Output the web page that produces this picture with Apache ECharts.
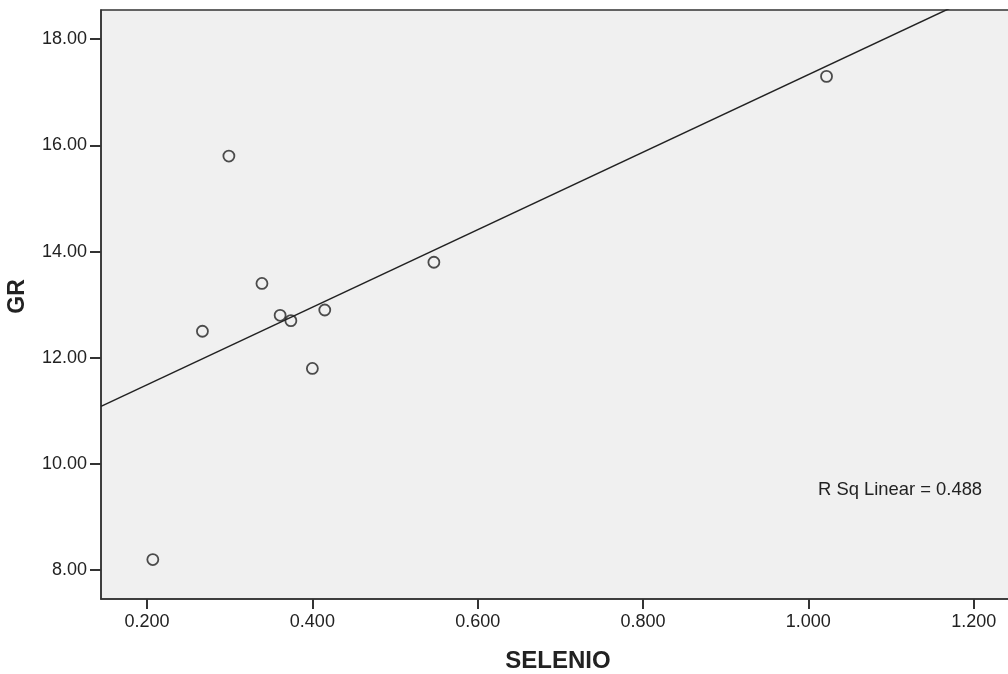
<!DOCTYPE html>
<html><head><meta charset="utf-8">
<script src="https://cdn.jsdelivr.net/npm/echarts@6/dist/echarts.min.js"></script>
<style>html,body{margin:0;padding:0;background:#fff}#c{width:1008px;height:674px}</style>
</head><body><div id="c"></div>
<script>
const selenio = [0.207, 0.267, 0.299, 0.339, 0.361, 0.374, 0.400, 0.415, 0.547, 1.022];
const gr      = [8.2, 12.5, 15.8, 13.4, 12.8, 12.7, 11.8, 12.9, 13.8, 17.3];
const xTicks = [0.2, 0.4, 0.6, 0.8, 1.0, 1.2];
const yTicks = [8, 10, 12, 14, 16, 18];
const rSqLabel = 'R Sq Linear = 0.488';
const xTitle = 'SELENIO';
const yTitle = 'GR';

const xMin = 0.1443, xMax = 1.25, yMin = 7.458, yMax = 18.55;

// least squares fit line from the data
const n = selenio.length;
const mx = selenio.reduce((a,b)=>a+b,0)/n;
const my = gr.reduce((a,b)=>a+b,0)/n;
let sxy=0, sxx=0;
for (let i=0;i<n;i++){ sxy+=(selenio[i]-mx)*(gr[i]-my); sxx+=(selenio[i]-mx)**2; }
const slope = sxy/sxx, icpt = my - slope*mx;
const fitLine = [[xMin, icpt+slope*xMin],[xMax, icpt+slope*xMax]];

const font = 'Arial, "Liberation Sans", sans-serif';
const chart = echarts.init(document.getElementById('c'));
chart.setOption({
  animation:false,
  backgroundColor:'#fff',
  grid:{left:101, top:10, width:914, height:589, outerBoundsMode:'none', containLabel:false,
        show:true, backgroundColor:'#f0f0f0', borderColor:'#333', borderWidth:1.5},
  xAxis:{type:'value', min:xMin, max:xMax,
    name:xTitle, nameLocation:'middle', nameGap:50, nameMoveOverlap:false,
    nameTextStyle:{fontFamily:font, fontSize:24, fontWeight:'bold', color:'#222'},
    axisLine:{show:true, onZero:false, lineStyle:{color:'#333', width:1.5}},
    axisTick:{show:true, length:10, customValues:xTicks, lineStyle:{color:'#333', width:2}},
    axisLabel:{customValues:xTicks, formatter:v=>v.toFixed(3), fontFamily:font, fontSize:18, color:'#222', margin:14},
    splitLine:{show:false}},
  yAxis:{type:'value', min:yMin, max:yMax,
    name:yTitle, nameLocation:'middle', nameGap:72, nameRotate:90, nameMoveOverlap:false,
    nameTextStyle:{fontFamily:font, fontSize:23, fontWeight:'bold', color:'#222', padding:[0,0,0,16]},
    axisLine:{show:true, onZero:false, lineStyle:{color:'#333', width:1.5}},
    axisTick:{show:true, length:11, customValues:yTicks, lineStyle:{color:'#333', width:2}},
    axisLabel:{customValues:yTicks, formatter:v=>v.toFixed(2), fontFamily:font, fontSize:18, color:'#222', margin:14},
    splitLine:{show:false}},
  series:[
    {type:'line', data:fitLine, symbol:'none', clip:true, silent:true,
     lineStyle:{color:'#222', width:1.5}},
    {type:'scatter', data:selenio.map((x,i)=>[x,gr[i]]), symbol:'circle', symbolSize:11,
     itemStyle:{color:'rgba(0,0,0,0)', borderColor:'#222', borderWidth:1.8}}
  ],
  graphic:[{type:'text', left:818, top:481, style:{text:rSqLabel, font:'18.4px Arial, "Liberation Sans", sans-serif', fill:'#222'}}]
});
</script></body></html>
